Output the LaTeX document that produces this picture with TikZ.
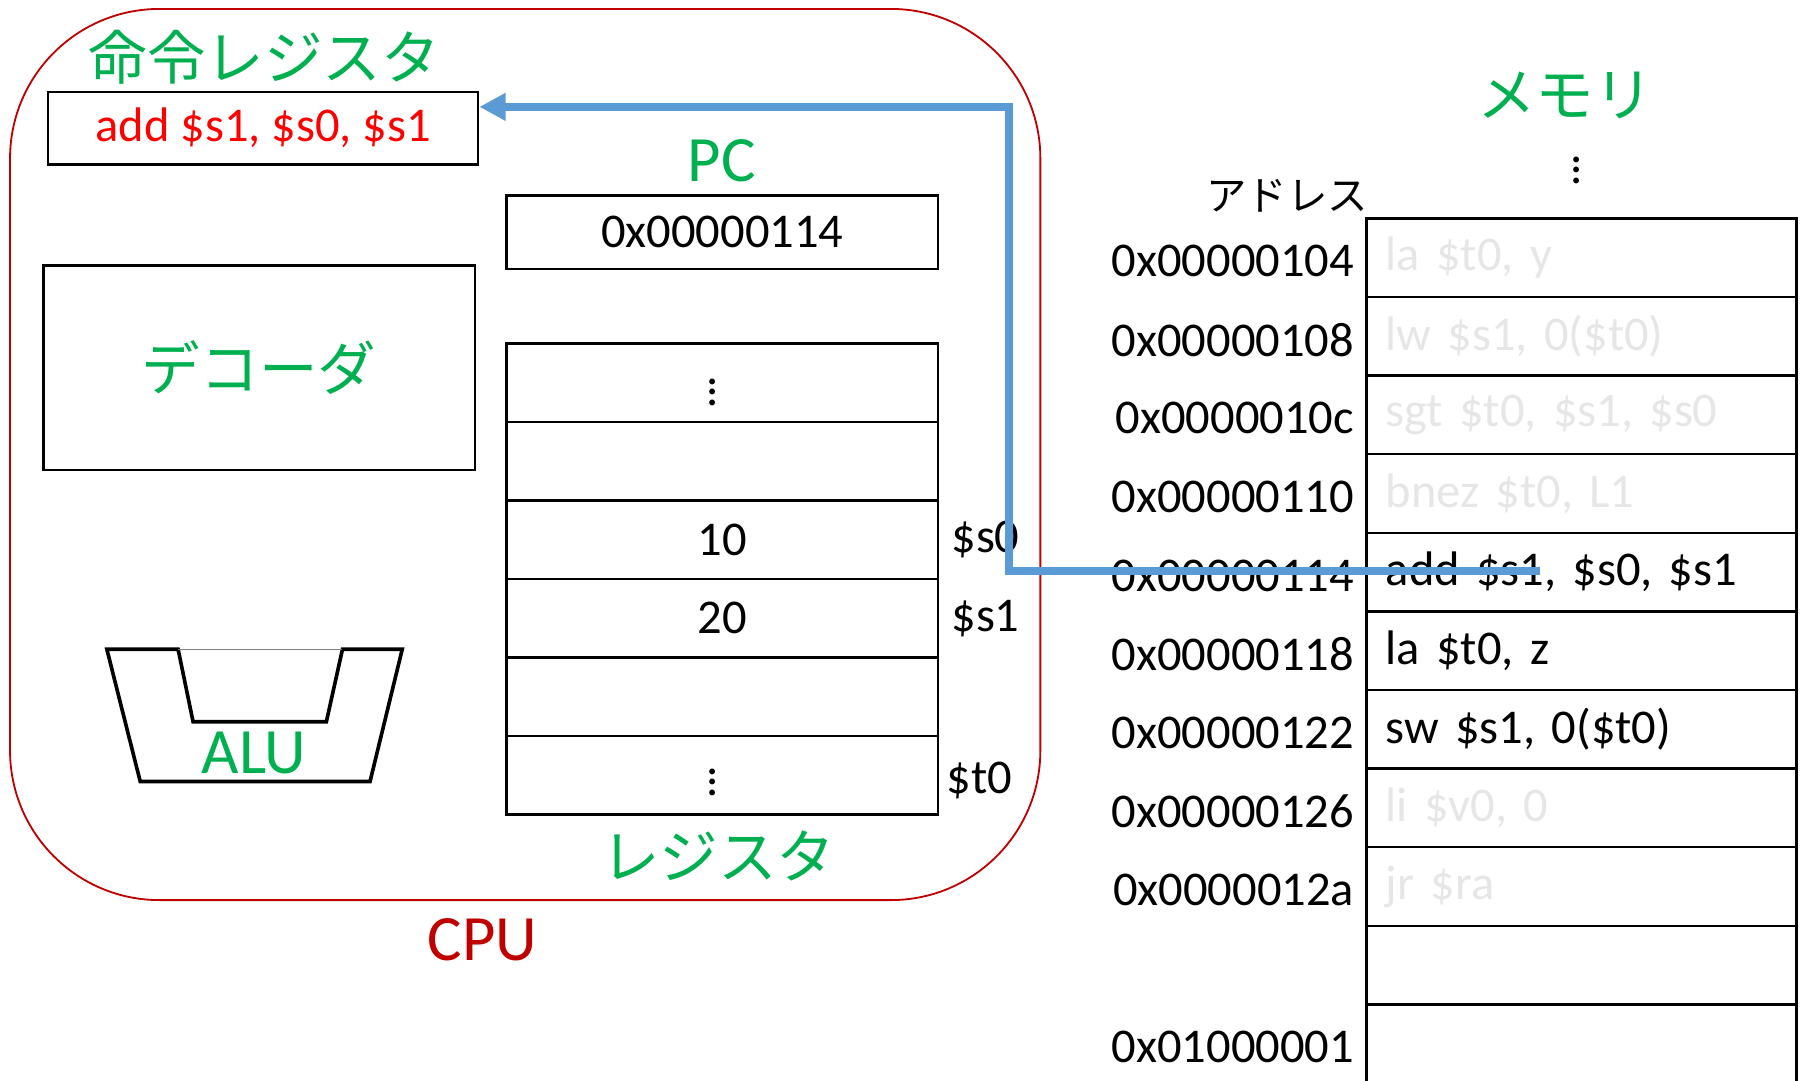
\documentclass[tikz,border=0pt]{standalone}
\usepackage{fontspec}
\setmainfont{Carlito}
\newfontfamily\jp{Noto Sans CJK JP}
\usetikzlibrary{arrows.meta,positioning}

\definecolor{headgreen}{HTML}{00B050}
\definecolor{cpured}{HTML}{C00000}
\definecolor{irred}{HTML}{FF0000}
\definecolor{busblue}{HTML}{5B9BD5}
\definecolor{fadedgray}{HTML}{E7E6E6}

\def\bodysize{\fontsize{12}{14}\selectfont}
\def\headsize{\fontsize{16}{19}\selectfont}
\def\jpheadsize{\jp\fontsize{14.5}{17}\selectfont}
\newcommand\colondots{\vbox{\baselineskip2.6pt\lineskiplimit0pt\hbox{.}\hbox{.}\hbox{.}}}

\begin{document}
\begin{tikzpicture}[x=0.01cm, y=-0.01cm,
		box/.style={draw, line width=0.6pt, inner sep=0},
		regcell/.style={box, minimum width=3.75cm, minimum height=0.683cm, font=\bodysize},
		memcell/.style={box, minimum height=0.684cm, text width=3.4cm, inner xsep=0.17cm, align=left, font=\bodysize},
		body/.style={font=\bodysize, inner sep=0},
		heading/.style={text=headgreen, font=\headsize, inner sep=0},
		jphead/.style={text=headgreen, font=\jpheadsize, inner sep=0},
		fetch/.style={busblue, line width=2pt, -{Triangle[length=6.5pt,width=6.5pt]}}]
		\useasboundingbox (0,0) rectangle (1568,940);
		
		% cpu
		\node[draw=cpured, line width=0.45pt, rounded corners=1.3cm, minimum width=8.96cm, minimum height=7.75cm] (cpu) at (457,395.5) {};
		\node[heading, text=cpured] (cpulabel) at (420,818) {CPU};
		
		% instruction register
		\node[jphead] (irlabel) at (230,50) {命令レジスタ};
		\node[box, minimum width=3.74cm, minimum height=0.63cm, text=irred, font=\bodysize] (ir) at (229,111.5) {add \$s1, \$s0, \$s1};
		
		% pc
		\node[heading] (pclabel) at (628,140) {PC};
		\node[box, minimum width=3.75cm, minimum height=0.64cm, font=\bodysize] (pc) at (628.5,202) {0x00000114};
		
		% decoder
		\node[box, minimum width=3.75cm, minimum height=1.78cm, text=headgreen, font=\jpheadsize] (dec) at (225.5,320) {デコーダ};
		
		% alu
		\draw[line width=0.9pt] (155,565) -- (93,565) -- (122,680) -- (322,680) -- (350,565) -- (298,565) -- (284,628) -- (168,628) -- cycle;
		\draw[gray, line width=0.3pt] (155,565) -- (298,565);
		\node[heading] (alulabel) at (221,655) {ALU};
		
		% registers
		\foreach \txt [count=\i from 0] in {, , 10, 20, , }
			\node[regcell] (reg\i) at (628.5, 333.2+68.3*\i) {\txt};
		\node[body] (regdots0) at ([xshift=-0.08cm, yshift=-0.08cm]reg0.center) {\colondots};
		\node[body] (regdots5) at ([xshift=-0.08cm, yshift=-0.06cm]reg5.center) {\colondots};
		\node[body, right=0.1cm of reg2.east, anchor=west] (s0) {\$s0};
		\node[body, right=0.1cm of reg3.east, anchor=west] (s1) {\$s1};
		\node[body, right=0.06cm of reg5.east, anchor=west, yshift=-0.04cm] (t0) {\$t0};
		\node[jphead] (reglabel) at (625,745) {レジスタ};
		
		% memory
		\node[jphead] (memlabel) at (1362,83) {メモリ};
		\node[body] (memdots) at (1372,148) {\colondots};
		\node[font=\jp\fontsize{10}{12}\selectfont, inner sep=0] (addrhead) at (1120,170) {アドレス};
		\foreach \txt/\col/\addr [count=\i from 0] in {
			{la \$t0, y}/fadedgray/0x00000104,
			{lw \$s1, 0(\$t0)}/fadedgray/0x00000108,
			{sgt \$t0, \$s1, \$s0}/fadedgray/0x0000010c,
			{bnez \$t0, L1}/fadedgray/0x00000110,
			{add \$s1, \$s0, \$s1}/black/0x00000114,
			{la \$t0, z}/black/0x00000118,
			{sw \$s1, 0(\$t0)}/black/0x00000122,
			{li \$v0, 0}/fadedgray/0x00000126,
			{jr \$ra}/fadedgray/0x0000012a,
			{}/black/{},
			{}/black/0x01000001}
		{
			\node[memcell, text=\col] (mem\i) at (1376, 224.2+68.4*\i) {\txt};
			\node[body, anchor=east] (addr\i) at ([xshift=-0.09cm, yshift=-0.03cm]mem\i.west) {\addr};
		}
		
		% fetch
		\coordinate (fetchEnd) at (1340,497);
		\coordinate (bend) at (878,93);
		\draw[fetch] (fetchEnd) -| (bend) -- (bend -| ir.east);
\end{tikzpicture}
\end{document}
